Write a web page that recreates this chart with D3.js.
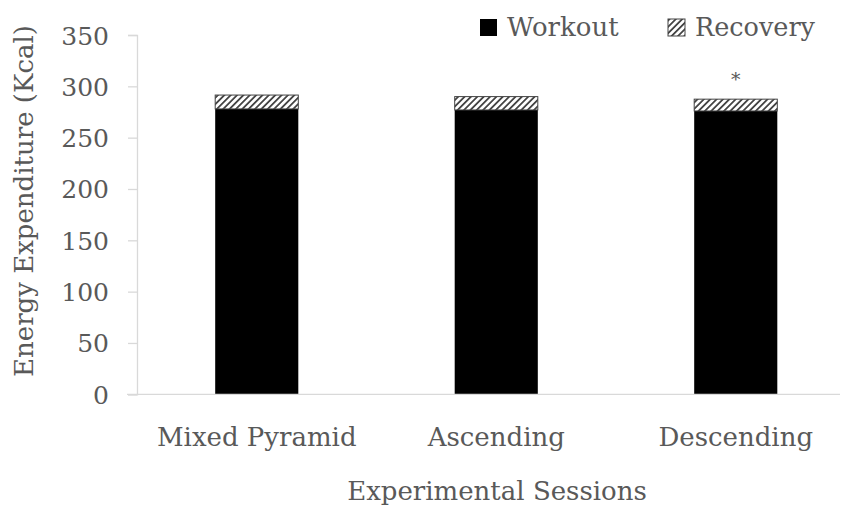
<!DOCTYPE html>
<html><head><meta charset="utf-8">
<script src="https://cdn.jsdelivr.net/npm/d3@7"></script>
<style>body{margin:0;background:#fff;} text{font-family:"DejaVu Serif","Liberation Serif",serif;fill:#595959;}</style>
</head><body>
<svg id="c" width="843" height="506"></svg>
<script>
const categories = ["Mixed Pyramid", "Ascending", "Descending"];
const workout = [278, 277, 276];
const recovery = [13.5, 13, 11.5];
const yTicks = [0, 50, 100, 150, 200, 250, 300, 350];
const significance = ["", "", "*"];

const svg = d3.select("#c");
const x = d3.scaleBand().domain(categories).range([137, 855.5]).paddingInner(0.653).paddingOuter(0.3265);
const y = d3.scaleLinear().domain([0, 350]).range([394.3, 35]);

const defs = svg.append("defs");
const pat = defs.append("pattern").attr("id","hatch").attr("patternUnits","userSpaceOnUse")
  .attr("width",4.5).attr("height",4.5).attr("patternTransform","rotate(45)");
pat.append("rect").attr("width",4.5).attr("height",4.5).attr("fill","#fff");
pat.append("rect").attr("x",0).attr("width",1.8).attr("height",4.5).attr("fill","#444");

// y axis
const yAxis = d3.axisLeft(y).tickValues(yTicks).tickSize(9).tickPadding(19);
const gy = svg.append("g").attr("transform","translate(137,0)").call(yAxis);
gy.select(".domain").attr("stroke","#d9d9d9").attr("stroke-width",1.3);
gy.selectAll(".tick line").attr("stroke","#d9d9d9").attr("stroke-width",1.3);
gy.selectAll(".tick text").style("font-size","25px").style("font-family","DejaVu Serif").attr("fill","#595959").attr("dy","0.36em");

// bars
const g = svg.append("g");
g.selectAll(".w").data(categories).join("rect").attr("class","w")
  .attr("x", d=>x(d)).attr("width", x.bandwidth())
  .attr("y", (d,i)=>y(workout[i])).attr("height",(d,i)=>y(0)-y(workout[i]))
  .attr("fill","#000");
g.selectAll(".r").data(categories).join("rect").attr("class","r")
  .attr("x", d=>x(d)).attr("width", x.bandwidth())
  .attr("y", (d,i)=>y(workout[i]+recovery[i])).attr("height",(d,i)=>y(workout[i])-y(workout[i]+recovery[i]))
  .attr("fill","url(#hatch)").attr("stroke","#444").attr("stroke-width",1);

// baseline
svg.append("line").attr("x1",127).attr("x2",840).attr("y1",y(0)).attr("y2",y(0))
  .attr("stroke","#d9d9d9").attr("stroke-width",1.3);

// significance
g.selectAll(".s").data(categories).join("text").attr("class","s")
  .attr("x", d=>x(d)+x.bandwidth()/2).attr("y",(d,i)=>y(workout[i]+recovery[i])-13)
  .attr("text-anchor","middle").style("font-size","19px").attr("fill","#333")
  .text((d,i)=>significance[i]);

// x labels
const xAxis = d3.axisBottom(x).tickSize(0).tickPadding(33);
const gx = svg.append("g").attr("transform",`translate(0,${y(0)})`).call(xAxis);
gx.select(".domain").remove();
gx.selectAll(".tick text").style("font-size","26px").style("font-family","DejaVu Serif").attr("fill","#595959").attr("dy","0.71em");

// titles
svg.append("text").attr("x",497).attr("y",500).attr("text-anchor","middle").style("font-size","26px").text("Experimental Sessions");
svg.append("text").attr("transform","translate(33,201) rotate(-90)").attr("text-anchor","middle").style("font-size","26px").text("Energy Expenditure (Kcal)");

// legend
const legend = [{name:"Workout", fill:"#000", x:480}, {name:"Recovery", fill:"url(#hatch)", x:668}];
const lg = svg.append("g");
lg.selectAll("rect").data(legend).join("rect").attr("x",d=>d.x).attr("y",19).attr("width",17).attr("height",17)
  .attr("fill",d=>d.fill).attr("stroke",d=>d.name==="Recovery"?"#444":"none");
lg.selectAll("text").data(legend).join("text").attr("x",d=>d.x+27).attr("y",36).style("font-size",d=>d.name==="Recovery"?"25.5px":"26px").text(d=>d.name);
</script>
</body></html>
